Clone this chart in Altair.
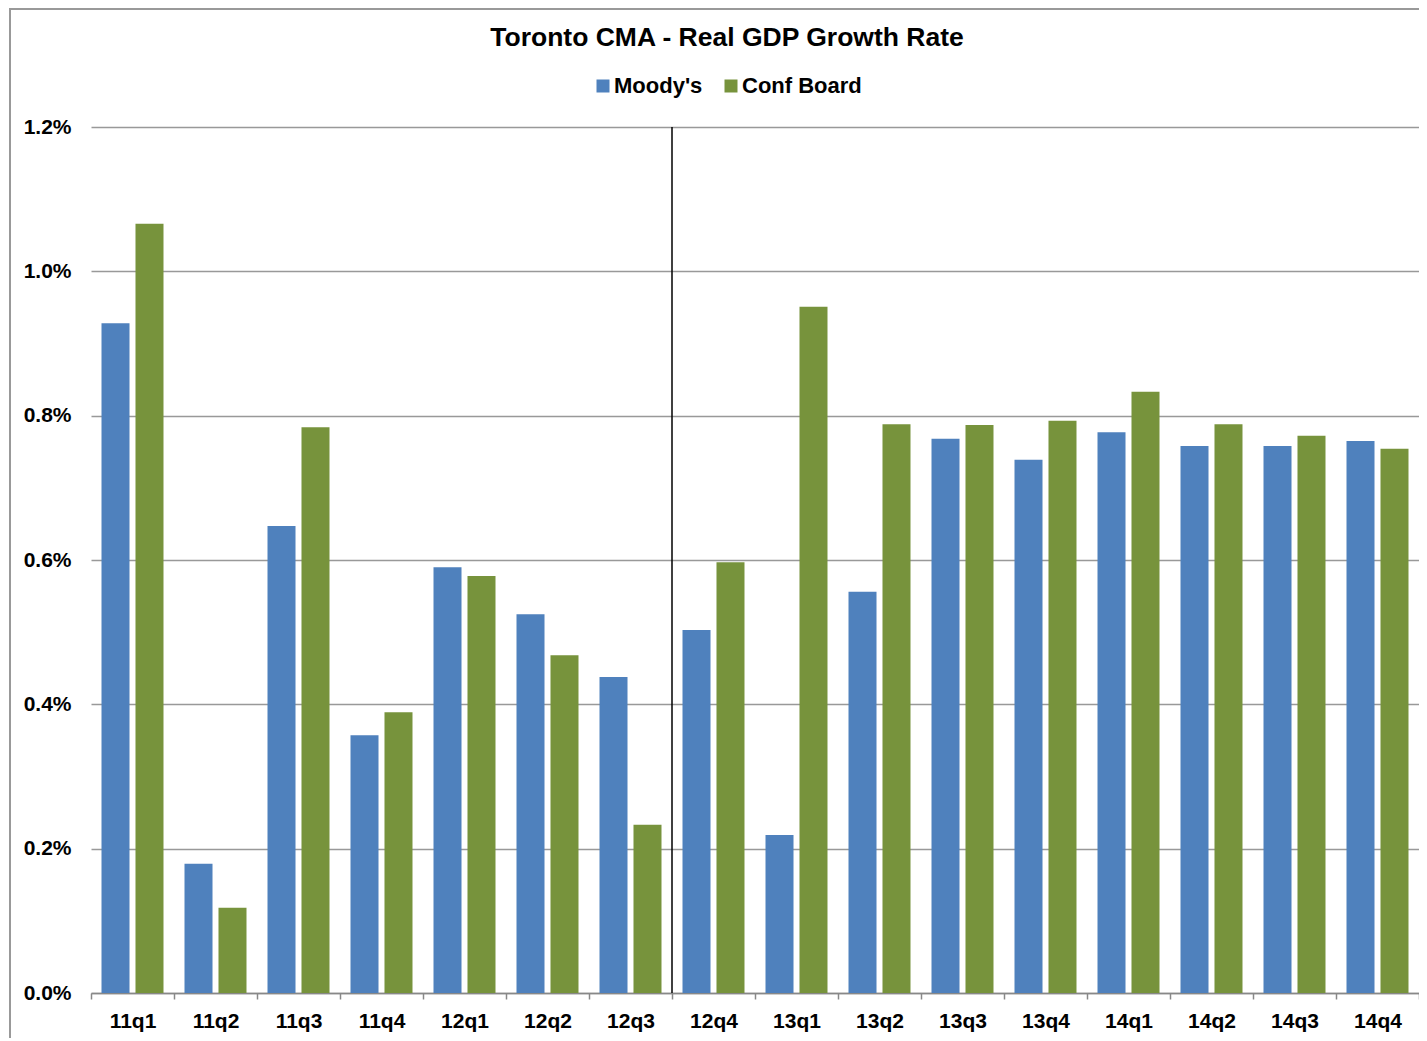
import altair as alt
import pandas as pd

quarters = ["11q1", "11q2", "11q3", "11q4", "12q1", "12q2", "12q3", "12q4",
            "13q1", "13q2", "13q3", "13q4", "14q1", "14q2", "14q3", "14q4"]
series_names = ["Moody's", "Conf Board"]
moodys = [0.00928, 0.00179, 0.00647, 0.00357, 0.00590, 0.00525, 0.00438, 0.00503,
          0.00219, 0.00556, 0.00768, 0.00739, 0.00777, 0.00758, 0.00758, 0.00765]
conf_board = [0.01066, 0.00118, 0.00784, 0.00389, 0.00578, 0.00468, 0.00233, 0.00597,
              0.00951, 0.00788, 0.00787, 0.00793, 0.00833, 0.00788, 0.00772, 0.00754]
divider_quarter = ["12q4"]
y_ticks = [0.0, 0.002, 0.004, 0.006, 0.008, 0.010, 0.012]
colors = ["#4F81BD", "#77933C"]

rows = []
for q, m, c in zip(quarters, moodys, conf_board):
    rows.append({"quarter": q, "series": series_names[0], "value": m})
    rows.append({"quarter": q, "series": series_names[1], "value": c})
df = pd.DataFrame(rows)
div_df = pd.DataFrame({"quarter": divider_quarter, "top": [y_ticks[-1]], "bottom": [y_ticks[0]]})

FONT = "Liberation Sans"

x_scale = alt.Scale(domain=quarters, paddingInner=0, paddingOuter=0)
y_scale = alt.Scale(domain=[y_ticks[0], y_ticks[-1]], nice=False)

bars = alt.Chart(df).mark_bar(stroke=None).encode(
    x=alt.X("quarter:N", scale=x_scale, sort=quarters,
            axis=alt.Axis(title=None, labelAngle=0, tickBand="extent", ticks=True,
                          tickSize=6, tickColor="#888888", tickWidth=1.5,
                          domainColor="#888888", domainWidth=1.5,
                          labelFont=FONT, labelFontSize=21, labelFontWeight="bold",
                          labelColor="#000000", labelPadding=11, grid=False)),
    xOffset=alt.XOffset("series:N", sort=series_names,
                        scale=alt.Scale(domain=series_names, paddingInner=0.176, paddingOuter=0.309)),
    y=alt.Y("value:Q", scale=y_scale,
            axis=alt.Axis(title=None, values=y_ticks, format=".1%", domain=False, ticks=False,
                          labelFont=FONT, labelFontSize=21, labelFontWeight="bold",
                          labelColor="#000000", labelPadding=20,
                          grid=True, gridColor="#999999", gridWidth=1.3)),
    color=alt.Color("series:N", sort=series_names,
                    scale=alt.Scale(domain=series_names, range=colors),
                    legend=alt.Legend(title=None, orient="none", direction="horizontal",
                                      legendX=501, legendY=-52, symbolType="square",
                                      symbolSize=169, symbolStrokeWidth=0, symbolOpacity=1,
                                      labelFont=FONT, labelFontSize=22, labelFontWeight="bold",
                                      labelColor="#000000", labelOffset=0, columnPadding=17,
                                      padding=0)),
)

divider = alt.Chart(div_df).mark_rule(color="#000000", strokeWidth=1.5).encode(
    x=alt.X("quarter:N", bandPosition=0),
    y=alt.Y("top:Q"),
    y2="bottom:Q",
)

frame = alt.Chart(pd.DataFrame({"k": [0]})).mark_rect(
    fill=None, stroke="#999999", strokeWidth=2, clip=False
).encode(
    x=alt.value(-81), x2=alt.value(1400),
    y=alt.value(-118), y2=alt.value(1000),
)

chart = alt.layer(frame, bars, divider).properties(
    width=1328, height=866,
    title=alt.TitleParams("Toronto CMA - Real  GDP Growth Rate", font=FONT, fontSize=26.5,
                          fontWeight="bold", color="#000000", anchor="middle", dx=-28,
                          baseline="alphabetic", offset=-64),
    padding={"left": 83, "top": 119, "right": 0, "bottom": 45},
    autosize=alt.AutoSizeParams(type="none"),
).configure(background="#ffffff", view=alt.ViewConfig(stroke=None))

chart.save("out.html", embed_options={"renderer": "svg", "actions": False})
